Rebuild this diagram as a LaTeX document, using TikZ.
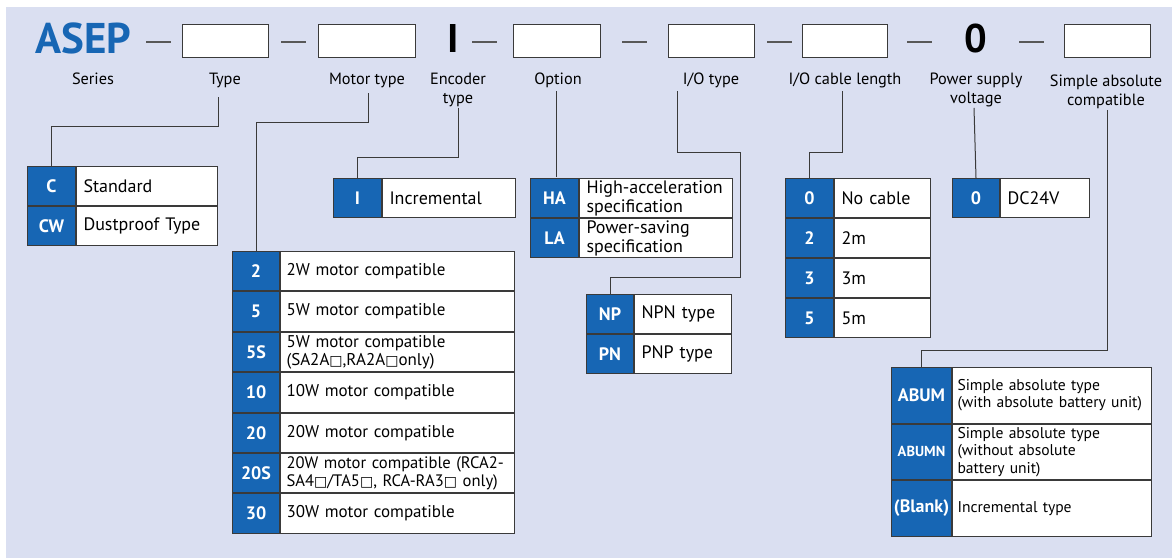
\documentclass[tikz,border=0pt]{standalone}
\usepackage{fontspec}
\setmainfont{PT Sans}
\newfontfamily\symfont{DejaVu Sans}
\usetikzlibrary{positioning}
\definecolor{CodeBlue}{HTML}{1766B4}
\definecolor{PanelLilac}{HTML}{DADFF1}
\definecolor{EdgeGray}{HTML}{3A3A3A}
\newcommand{\sqbox}{{\symfont\fontsize{14}{14}\selectfont □}}

\begin{document}
\begin{tikzpicture}[x=1pt,y=-1pt,
  code/.style={draw=EdgeGray, line width=1pt, fill=CodeBlue, text=white, font=\bfseries\fontsize{18}{19}\selectfont, anchor=north west, inner sep=0pt, minimum width=48, minimum height=39},
  desc/.style={draw=EdgeGray, line width=1pt, fill=white, anchor=north west, inner xsep=7pt, inner ysep=0pt, text width=#1, align=left, minimum height=39, font=\fontsize{18}{19}\selectfont},
  slot/.style={draw=EdgeGray, line width=0.8pt, fill=white, minimum width=86, minimum height=33, inner sep=0pt},
  fieldname/.style={font=\fontsize{16.3}{18.5}\selectfont, align=center, inner sep=0pt, anchor=north},
  bigmark/.style={font=\bfseries\fontsize{43}{43}\selectfont, inner sep=0pt},
  dashmark/.style={fill=EdgeGray!85, minimum width=25, minimum height=1.6, inner sep=0pt},
  conn/.style={draw=EdgeGray, line width=1pt}
]
\useasboundingbox (0,0) rectangle (1172,558);
\fill[PanelLilac] (6,7) rectangle (1172,558);

% model code row
\node[bigmark, text=CodeBlue, anchor=west] (series) at (35,38) {ASEP};
\node[dashmark] (d1) at (158,42) {};
\node[slot] (sType) at (225,40.5) {};
\node[dashmark] (d2) at (293,42) {};
\node[slot, minimum width=97] (sMotor) at (366.5,40.5) {};
\node[bigmark, font=\bfseries\fontsize{40}{40}\selectfont] (sEnc) at (453,38) {I};
\node[dashmark] (d3) at (484,42) {};
\node[slot, minimum width=87] (sOpt) at (556.5,40.5) {};
\node[dashmark] (d4) at (634,42) {};
\node[slot] (sIO) at (711,40.5) {};
\node[dashmark] (d5) at (779,42) {};
\node[slot, minimum width=85] (sCable) at (844.5,40.5) {};
\node[dashmark] (d6) at (919,42) {};
\node[bigmark, font=\bfseries\fontsize{40}{40}\selectfont] (sPower) at (976,38) {0};
\node[dashmark] (d7) at (1031,42) {};
\node[slot] (sAbs) at (1107,40.5) {};

% field names
\node[fieldname] (lSeries) at (93,73) {Series};
\node[fieldname] (lType) at (225,73) {Type};
\node[fieldname] (lMotor) at (367,73) {Motor type};
\node[fieldname] (lEnc) at (458,73) {Encoder\\type};
\node[fieldname] (lOpt) at (558,73) {Option};
\node[fieldname] (lIO) at (711,73) {I/O type};
\node[fieldname] (lCable) at (845,73) {I/O cable length};
\node[fieldname] (lPower) at (976,73) {Power supply\\voltage};
\node[fieldname] (lAbs) at (1106,75) {Simple absolute\\compatible};

% type
\node[code] (cC) at (27,166) {C};
\node[desc=127pt] (dC) at (cC.north east) {Standard};
\node[code] (cCW) at (cC.south west) {CW};
\node[desc=127pt] (dCW) at (cCW.north east) {Dustproof Type};

% motor type
\tikzset{mrow/.style={minimum height=39.4, font=\fontsize{17}{18}\selectfont}}
\node[code, mrow, font=\bfseries\fontsize{18}{19}\selectfont, minimum width=47] (c2) at (232,251) {2};
\node[desc=222pt, mrow, inner xsep=6pt] (d2W) at (c2.north east) {2W motor compatible};
\node[code, mrow, font=\bfseries\fontsize{18}{19}\selectfont, minimum width=47] (c5) at (c2.south west) {5};
\node[desc=222pt, mrow, inner xsep=6pt] (d5W) at (c5.north east) {5W motor compatible};
\node[code, mrow, font=\bfseries\fontsize{18}{19}\selectfont, minimum width=47] (c5S) at (c5.south west) {5S};
\node[desc=222pt, mrow, inner xsep=6pt] (d5S) at (c5S.north east) {5W motor compatible\\(SA2A\sqbox,RA2A\sqbox only)};
\node[code, mrow, font=\bfseries\fontsize{18}{19}\selectfont, minimum width=47] (c10) at (c5S.south west) {10};
\node[desc=222pt, mrow, inner xsep=6pt] (d10W) at (c10.north east) {10W motor compatible};
\node[code, mrow, font=\bfseries\fontsize{18}{19}\selectfont, minimum width=47] (c20) at (c10.south west) {20};
\node[desc=222pt, mrow, inner xsep=6pt] (d20W) at (c20.north east) {20W motor compatible};
\node[code, mrow, font=\bfseries\fontsize{18}{19}\selectfont, minimum width=47] (c20S) at (c20.south west) {20S};
\node[desc=222pt, mrow, inner xsep=6pt, font=\fontsize{16.6}{18}\selectfont] (d20S) at (c20S.north east) {\mbox{20W motor compatible (RCA2-}\\\mbox{SA4\sqbox/TA5\sqbox, RCA-RA3\sqbox{} only)}};
\node[code, mrow, font=\bfseries\fontsize{18}{19}\selectfont, minimum width=47] (c30) at (c20S.south west) {30};
\node[desc=222pt, mrow, inner xsep=6pt] (d30W) at (c30.north east) {30W motor compatible};

% encoder type
\node[code] (cI) at (333,178) {I};
\node[desc=119pt] (dI) at (cI.north east) {Incremental};

% option
\node[code] (cHA) at (530,178) {HA};
\node[desc=139pt] (dHA) at (cHA.north east) {High-acceleration\\specification};
\node[code] (cLA) at (cHA.south west) {LA};
\node[desc=139pt] (dLA) at (cLA.north east) {Power-saving\\specification};

% I/O type
\node[code, minimum width=47] (cNP) at (586,294) {NP};
\node[desc=83pt] (dNP) at (cNP.north east) {NPN type};
\node[code, minimum width=47] (cPN) at (cNP.south west) {PN};
\node[desc=83pt] (dPN) at (cPN.north east) {PNP type};

% I/O cable length
\node[code] (cL0) at (785,178) {0};
\node[desc=82pt] (dL0) at (cL0.north east) {No cable};
\node[code] (cL2) at (cL0.south west) {2};
\node[desc=82pt] (dL2) at (cL2.north east) {2m};
\node[code] (cL3) at (cL2.south west) {3};
\node[desc=82pt] (dL3) at (cL3.north east) {3m};
\node[code] (cL5) at (cL3.south west) {5};
\node[desc=82pt] (dL5) at (cL5.north east) {5m};

% power supply
\node[code, minimum width=47] (cV0) at (952,178) {0};
\node[desc=75pt] (dV0) at (cV0.north east) {DC24V};

% simple absolute
\tikzset{arow/.style={minimum height=55.5, font=\fontsize{15.6}{17.5}\selectfont}}
\node[code, minimum width=60, minimum height=55.5] (cABUM) at (891,367) {ABUM};
\node[desc=189pt, arow, inner xsep=5pt] (dABUM) at (cABUM.north east) {Simple absolute type\\\mbox{(with absolute battery unit)}};
\node[code, minimum width=60, minimum height=55.5, font=\bfseries\fontsize{14.5}{15}\selectfont] (cABUMN) at (cABUM.south west) {ABUMN};
\node[desc=189pt, arow, inner xsep=5pt] (dABUMN) at (cABUMN.north east) {Simple absolute type\\(without absolute\\battery unit)};
\node[code, minimum width=60, minimum height=55.5] (cBlank) at (cABUMN.south west) {(Blank)};
\node[desc=189pt, arow, inner xsep=5pt] (dBlank) at (cBlank.north east) {Incremental type};

% leaders
\draw[conn] ([xshift=-7pt,yshift=-9pt]lType.south) -- ++(0,29) -| (cC.north);
\draw[conn] ([xshift=1pt,yshift=-5pt]lMotor.south) -- ++(0,29) -| (c2.north);
\draw[conn] ([yshift=-1pt]lEnc.south) -- ++(0,50) -| (cI.north);
\draw[conn] ([xshift=-2pt,yshift=-3pt]lOpt.south) -- ++(0,86);
\draw[conn] ([xshift=-34pt,yshift=-3pt]lIO.south) -- ++(0,61) -| ++(63,125) -| (cNP.north);
\draw[conn] ([xshift=-3pt,yshift=-3pt]lCable.south) -- ++(0,61) -| (cL0.north);
\draw[conn] ([xshift=-2pt,yshift=-1pt]lPower.south) -- (cV0.north);
\draw[conn] ([xshift=1pt,yshift=-1pt]lAbs.south) -- ++(0,241) -| (cABUM.north);
\end{tikzpicture}
\end{document}
